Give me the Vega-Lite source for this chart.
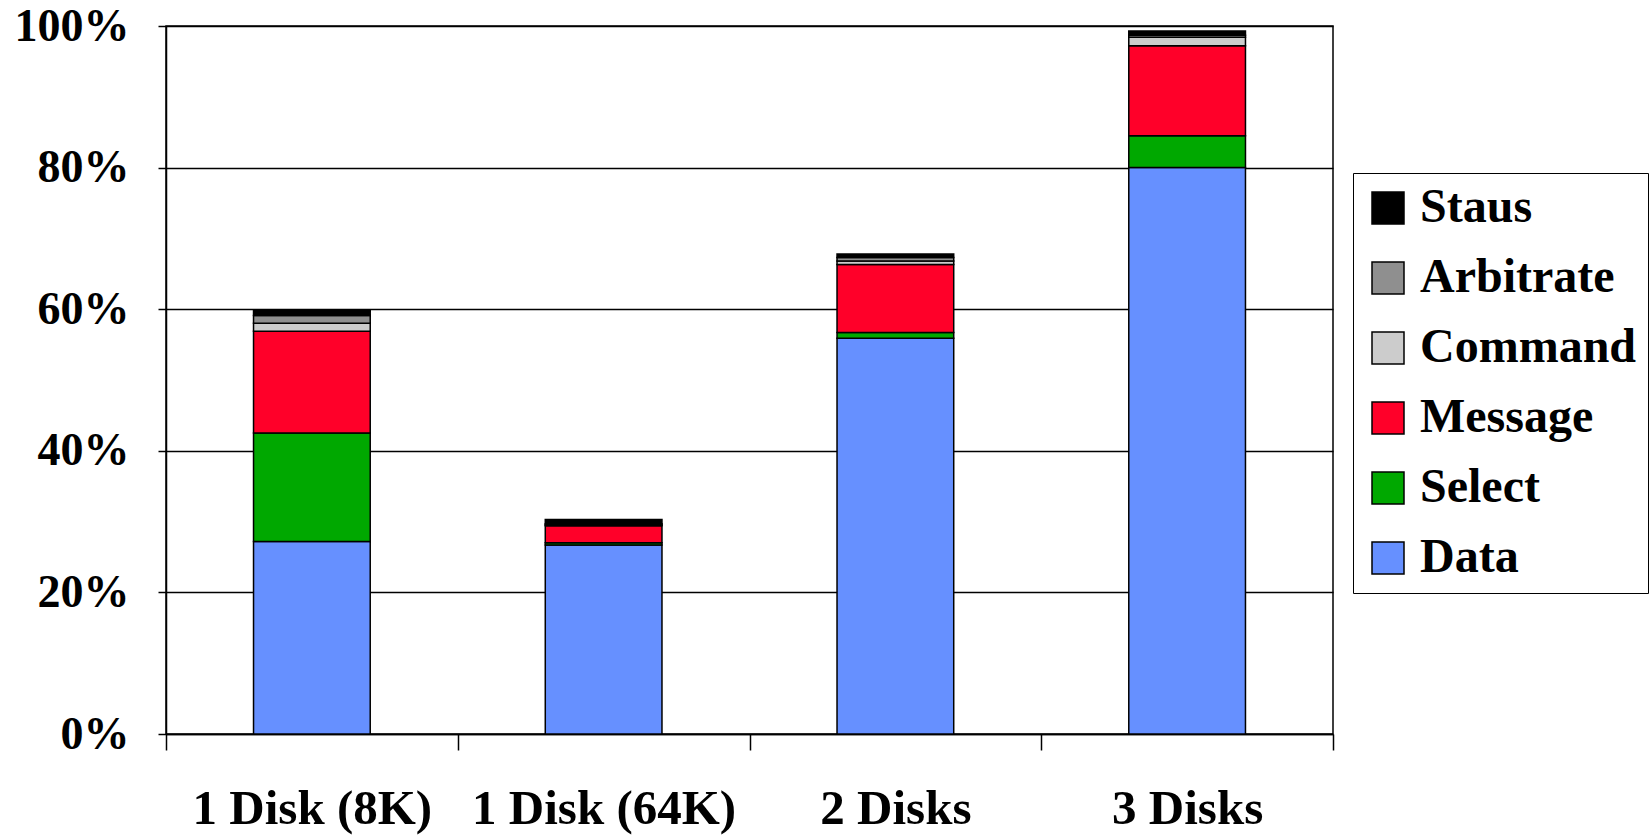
{
  "$schema": "https://vega.github.io/schema/vega-lite/v6.json",
  "width": 1167,
  "height": 708,
  "autosize": "none",
  "padding": {"left": 166, "top": 26, "right": 319, "bottom": 101},
  "background": "white",
  "config": {"view": {"stroke": "black", "strokeWidth": 1.5}},
  "data": {
    "values": [
      {"config": "1 Disk (8K)", "type": "Data", "ord": 1, "value": 27.2},
      {"config": "1 Disk (8K)", "type": "Select", "ord": 2, "value": 15.3},
      {"config": "1 Disk (8K)", "type": "Message", "ord": 3, "value": 14.4},
      {"config": "1 Disk (8K)", "type": "Command", "ord": 4, "value": 1.1},
      {"config": "1 Disk (8K)", "type": "Arbitrate", "ord": 5, "value": 1.1},
      {"config": "1 Disk (8K)", "type": "Staus", "ord": 6, "value": 0.7},
      {"config": "1 Disk (64K)", "type": "Data", "ord": 1, "value": 26.7},
      {"config": "1 Disk (64K)", "type": "Select", "ord": 2, "value": 0.3},
      {"config": "1 Disk (64K)", "type": "Message", "ord": 3, "value": 2.4},
      {"config": "1 Disk (64K)", "type": "Command", "ord": 4, "value": 0.15},
      {"config": "1 Disk (64K)", "type": "Arbitrate", "ord": 5, "value": 0.15},
      {"config": "1 Disk (64K)", "type": "Staus", "ord": 6, "value": 0.6},
      {"config": "2 Disks", "type": "Data", "ord": 1, "value": 55.9},
      {"config": "2 Disks", "type": "Select", "ord": 2, "value": 0.8},
      {"config": "2 Disks", "type": "Message", "ord": 3, "value": 9.6},
      {"config": "2 Disks", "type": "Command", "ord": 4, "value": 0.5},
      {"config": "2 Disks", "type": "Arbitrate", "ord": 5, "value": 0.5},
      {"config": "2 Disks", "type": "Staus", "ord": 6, "value": 0.5},
      {"config": "3 Disks", "type": "Data", "ord": 1, "value": 80.0},
      {"config": "3 Disks", "type": "Select", "ord": 2, "value": 4.5},
      {"config": "3 Disks", "type": "Message", "ord": 3, "value": 12.7},
      {"config": "3 Disks", "type": "Command", "ord": 4, "value": 1.2},
      {"config": "3 Disks", "type": "Arbitrate", "ord": 5, "value": 0.3},
      {"config": "3 Disks", "type": "Staus", "ord": 6, "value": 0.6}
    ]
  },
  "mark": {"type": "bar", "width": {"band": 0.4}, "stroke": "black", "strokeWidth": 1.5},
  "encoding": {
    "x": {
      "field": "config",
      "type": "nominal",
      "sort": ["1 Disk (8K)", "1 Disk (64K)", "2 Disks", "3 Disks"],
      "scale": {"paddingInner": 0, "paddingOuter": 0},
      "axis": {
        "title": null,
        "labelAngle": 0,
        "tickBand": "extent",
        "tickSize": 16,
        "tickWidth": 1.5,
        "tickColor": "black",
        "domainColor": "black",
        "domainWidth": 1.5,
        "labelPadding": 34,
        "labelFont": "Liberation Serif",
        "labelFontWeight": "bold",
        "labelFontSize": 49,
        "labelColor": "black",
        "labelLimit": 400,
        "grid": false
      }
    },
    "y": {
      "field": "value",
      "type": "quantitative",
      "stack": "zero",
      "scale": {"domain": [0, 100], "nice": false},
      "axis": {
        "title": null,
        "values": [0, 20, 40, 60, 80, 100],
        "labelExpr": "datum.value + '%'",
        "grid": true,
        "gridColor": "black",
        "gridWidth": 1.5,
        "gridOpacity": 1,
        "tickSize": 8,
        "tickWidth": 1.5,
        "tickColor": "black",
        "domainColor": "black",
        "domainWidth": 1.5,
        "labelPadding": 29,
        "labelFont": "Liberation Serif",
        "labelFontWeight": "bold",
        "labelFontSize": 46,
        "labelColor": "black"
      }
    },
    "color": {
      "field": "type",
      "type": "nominal",
      "scale": {
        "domain": ["Staus", "Arbitrate", "Command", "Message", "Select", "Data"],
        "range": ["#000000", "#8f8f8f", "#cccccc", "#ff0029", "#00a800", "#6690ff"]
      },
      "legend": {
        "title": null,
        "orient": "none",
        "legendX": 1187,
        "legendY": 147,
        "symbolType": "square",
        "symbolSize": 1024,
        "symbolStrokeColor": "black",
        "symbolStrokeWidth": 1.5,
        "symbolOpacity": 1,
        "labelFont": "Liberation Serif",
        "labelFontWeight": "bold",
        "labelFontSize": 48,
        "labelColor": "black",
        "labelOffset": 8,
        "labelLimit": 400,
        "rowPadding": 22,
        "padding": 11,
        "strokeColor": "black",
        "fillColor": "white"
      }
    },
    "order": {"field": "ord", "type": "quantitative"}
  }
}
